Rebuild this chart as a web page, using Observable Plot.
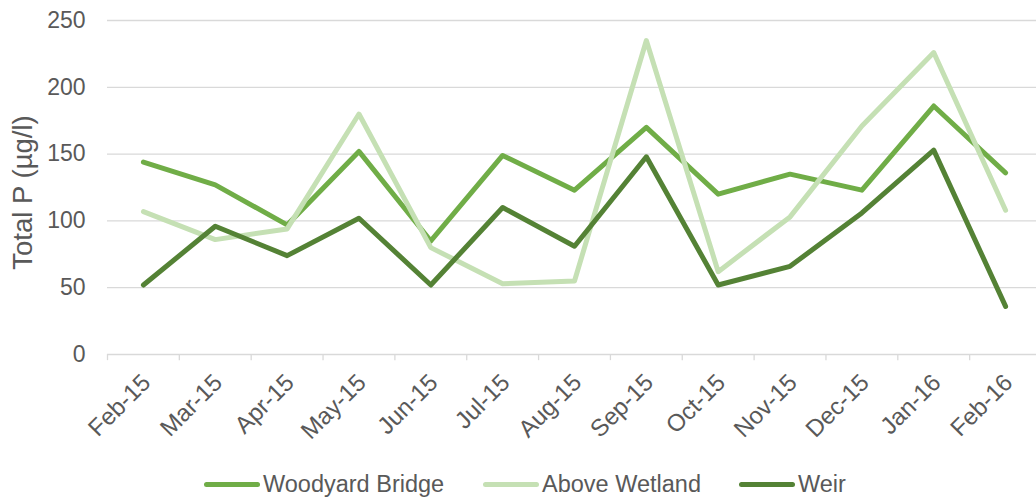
<!DOCTYPE html>
<html>
<head>
<meta charset="utf-8">
<script src="https://cdn.jsdelivr.net/npm/d3@7"></script>
<script src="https://cdn.jsdelivr.net/npm/@observablehq/plot@0.6"></script>
<style>
  html, body { margin: 0; padding: 0; background: #fff; }
  #wrap { position: relative; width: 1036px; height: 500px; font-family: "Liberation Sans", Arial, sans-serif; color: #595959; }
  .legend { position: absolute; top: 469px; left: 0; width: 1036px; height: 30px; font-size: 23.5px; }
  .item { position: absolute; top: 0; display: flex; align-items: center; height: 30px; }
  .sw { width: 56px; height: 5px; border-radius: 3px; margin-right: 3px; }
</style>
</head>
<body>
<div id="wrap"></div>
<script>
const months = ["Feb-15","Mar-15","Apr-15","May-15","Jun-15","Jul-15","Aug-15","Sep-15","Oct-15","Nov-15","Dec-15","Jan-16","Feb-16"];
const seriesNames = ["Woodyard Bridge", "Above Wetland", "Weir"];
const seriesColors = ["#70AD47", "#C5E0B4", "#548235"];
const woodyardBridge = [144, 127, 97, 152, 85, 149, 123, 170, 120, 135, 123, 186, 136];
const aboveWetland = [107, 86, 94, 180, 80, 53, 55, 235, 62, 103, 171, 226, 108];
const weir = [52, 96, 74, 102, 52, 110, 81, 148, 52, 66, 106, 153, 36];
const yTicks = [0, 50, 100, 150, 200, 250];
const yTitle = "Total P (µg/l)";

const seriesValues = [woodyardBridge, aboveWetland, weir];
const data = [];
seriesNames.forEach((s, i) => months.forEach((m, j) => data.push({series: s, month: m, value: seriesValues[i][j]})));

const W = 1036, H = 460, ML = 107, XR = 1041;
const bw = (XR - ML) / months.length;

const chart = Plot.plot({
  width: W,
  height: H,
  marginLeft: ML,
  marginRight: 0,
  marginTop: 20,
  marginBottom: 106,
  style: {fontFamily: '"Liberation Sans", Arial, sans-serif', fontSize: "23px", color: "#595959", background: "#fff", overflow: "visible"},
  x: {type: "band", domain: months, padding: 0, range: [ML, XR], round: false, label: null},
  y: {domain: [0, 250], label: null},
  color: {domain: seriesNames, range: seriesColors},
  marks: [
    Plot.gridY(yTicks, {stroke: "#d9d9d9", strokeOpacity: 1, strokeWidth: 1.3}),
    Plot.ruleX(months, {x: d => d, dx: -bw / 2, y1: 0, y2: -4.6, stroke: "#d9d9d9", strokeWidth: 1.3}),
    Plot.axisY(yTicks, {tickSize: 0, tickPadding: 22, fontSize: 23, fill: "#595959"}),
    Plot.axisX({tickSize: 0, tickRotate: -45, tickPadding: 24, dx: 3, fontSize: 24, fill: "#595959"}),
    Plot.text([yTitle], {frameAnchor: "left", textAnchor: "middle", dx: -84, dy: 5, rotate: -90, fontSize: 27.5, fill: "#595959"}),
    Plot.lineY(data, {x: "month", y: "value", z: "series", stroke: "series", strokeWidth: 5, strokeLinejoin: "round", strokeLinecap: "round"})
  ]
});

const wrap = document.getElementById("wrap");
wrap.appendChild(chart);

const legend = document.createElement("div");
legend.className = "legend";
const lefts = [204, 483, 739];
seriesNames.forEach((s, i) => {
  const it = document.createElement("div");
  it.className = "item";
  it.style.left = lefts[i] + "px";
  const sw = document.createElement("div");
  sw.className = "sw";
  sw.style.background = seriesColors[i];
  const t = document.createElement("span");
  t.textContent = s;
  it.appendChild(sw);
  it.appendChild(t);
  legend.appendChild(it);
});
wrap.appendChild(legend);
</script>
</body>
</html>
